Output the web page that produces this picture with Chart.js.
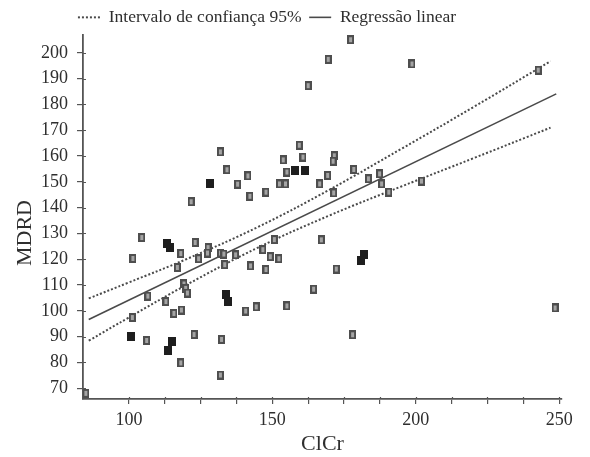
<!DOCTYPE html>
<html>
<head>
<meta charset="utf-8">
<script src="https://cdn.jsdelivr.net/npm/chart.js@4.4.0/dist/chart.umd.min.js"></script>
<style>
  html, body { margin: 0; padding: 0; background: #ffffff; }
  #wrap { width: 590px; height: 457px; }
</style>
</head>
<body>
<div id="wrap"><canvas id="c" width="590" height="457"></canvas></div>
<script>
// ---- Data ----
const grayX = [131.9,134.2,141.5,137.9,142.2,147.8,152.5,121.7,104.5,101.4,118.1,123.1,116.9,124.3,127.6,127.4,131.9,133.1,137.2,133.4,142.4,150.7,149.3,147.8,119.2,119.8,120.4,106.6,112.9,140.7,144.4,115.7,118.3,101.2,106.2,122.7,132.3,118.1,131.9,85.0,
  177.3,169.5,198.7,162.5,159.4,153.8,160.7,171.6,171.2,155.1,169.3,178.4,154.6,166.5,171.4,183.5,187.4,188.1,190.6,202.0,
  167.1,146.7,152.3,172.3,164.4,155.1,178.0,242.7,248.6];
const grayY = [161.6,154.7,152.3,149.1,144.4,146.0,149.2,142.3,128.4,120.3,122.2,126.5,116.8,120.2,124.5,122.4,122.4,122.0,121.7,117.9,117.4,127.6,121.0,116.0,110.4,108.7,106.9,105.7,103.6,99.9,101.5,99.0,100.3,97.4,88.5,90.8,88.9,79.8,75.1,68.0,
  205.1,197.5,195.7,187.3,164.2,158.5,159.6,160.1,158.0,153.8,152.5,154.8,149.2,149.2,145.7,151.2,153.1,149.2,146.0,150.3,
  127.5,123.7,120.2,116.2,108.4,101.9,90.7,193.3,101.1];
const blackX = [128.3,113.3,114.5,133.8,134.7,100.8,115.2,113.5,157.8,161.5,182.0,180.8];
const blackY = [149.4,126.1,124.5,106.4,103.5,90.1,88.0,84.7,154.4,154.4,121.7,119.5];

const regX = [86, 249];
const regY = [96.6, 184.1];

const ciX     = [86, 100, 120, 145, 170, 195, 220, 247];
const ciUpper = [104.8, 111.0, 120.0, 132.5, 147.0, 162.8, 178.9, 196.8];
const ciLower = [88.4, 97.4, 110.0, 124.5, 137.0, 148.2, 159.1, 171.0];

const xTickValues = [100,112.5,125,137.5,150,162.5,175,187.5,200,212.5,225,237.5,250];
const xTickLabels = [100,150,200,250];
const yTickValues = [70,80,90,100,110,120,130,140,150,160,170,180,190,200];

const labelCI = 'Intervalo de confiança 95%';
const labelReg = 'Regressão linear';
const xTitle = 'ClCr';
const yTitle = 'MDRD';

// ---- Marker images ----
function makeMarker(w, h, outer, inner) {
  const cv = document.createElement('canvas');
  cv.width = w; cv.height = h;
  const g = cv.getContext('2d');
  g.fillStyle = outer; g.fillRect(0, 0, w, h);
  if (inner) { g.fillStyle = inner; g.fillRect(2, 2, w - 4, h - 4); }
  return cv;
}
const grayMarker = makeMarker(7, 9, '#4e4e4e', '#a4a4a4');
const blackMarker = makeMarker(8, 9, '#1e1e1e', null);

const zip = (xs, ys) => xs.map((x, i) => ({x: x, y: ys[i]}));

const FONT = "'Liberation Serif', 'DejaVu Serif', serif";
const TXT = '#2e2e2e';
const AX = '#555555';

// shift the legend and the y title slightly (drawing only)
const layoutTweaks = {
  id: 'layoutTweaks',
  beforeDraw(chart) {
    const lg = chart.legend;
    if (lg && !lg._shifted) {
      lg.left -= 14; lg.right -= 14;
      lg.top += 1; lg.bottom += 1;
      lg._shifted = true;
    }
    const ys = chart.scales.y;
    if (ys && !ys._titlePatched) {
      const orig = ys.drawTitle.bind(ys);
      ys.drawTitle = function () {
        const ctx = chart.ctx;
        ctx.save();
        ctx.translate(2, 16);
        orig();
        ctx.restore();
      };
      ys._titlePatched = true;
    }
  }
};

// small inner part of the tick marks (ticks cross the axis line)
const innerTicks = {
  id: 'innerTicks',
  afterDatasetsDraw(chart) {
    const ctx = chart.ctx, xs = chart.scales.x, ys = chart.scales.y;
    const ca = chart.chartArea;
    ctx.save();
    ctx.strokeStyle = AX; ctx.lineWidth = 1.2;
    ctx.beginPath();
    ys.ticks.forEach(t => { const p = Math.round(ys.getPixelForValue(t.value)) + 0.5; ctx.moveTo(ca.left, p); ctx.lineTo(ca.left + 3, p); });
    xs.ticks.forEach(t => { const p = Math.round(xs.getPixelForValue(t.value)) + 0.5; ctx.moveTo(p, ca.bottom); ctx.lineTo(p, ca.bottom - 2); });
    ctx.stroke();
    ctx.restore();
  }
};

new Chart(document.getElementById('c'), {
  type: 'scatter',
  plugins: [layoutTweaks, innerTicks],
  data: {
    datasets: [
      { type: 'line', label: labelCI, data: zip(ciX, ciUpper), borderColor: '#4a4a4a', borderWidth: 2, borderDash: [2, 2],
        pointRadius: 0, fill: false, tension: 0.4, order: 2 },
      { type: 'line', label: labelReg, data: zip(regX, regY), borderColor: '#4a4a4a', borderWidth: 1.6,
        pointRadius: 0, fill: false, order: 2 },
      { type: 'line', label: 'ci-lower', data: zip(ciX, ciLower), borderColor: '#4a4a4a', borderWidth: 2, borderDash: [2, 2],
        pointRadius: 0, fill: false, tension: 0.4, order: 2 },
      { label: 'gray', data: zip(grayX, grayY), pointStyle: grayMarker, order: 1 },
      { label: 'black', data: zip(blackX, blackY), pointStyle: blackMarker, order: 1 }
    ]
  },
  options: {
    responsive: false,
    animation: false,
    devicePixelRatio: 1,
    layout: { padding: { left: 0, right: 28, top: 0, bottom: 0 } },
    plugins: {
      tooltip: { enabled: false },
      legend: {
        display: true,
        position: 'top',
        labels: {
          generateLabels: (chart) => {
            const items = Chart.defaults.plugins.legend.labels.generateLabels(chart);
            return items
              .filter(it => it.text === labelCI || it.text === labelReg)
              .map(it => {
                const ds = chart.data.datasets[it.datasetIndex];
                it.lineDash = ds.borderDash || [];
                it.lineWidth = ds.borderWidth;
                it.strokeStyle = ds.borderColor;
                it.pointStyle = 'line';
                return it;
              });
          },
          usePointStyle: true,
          pointStyle: 'line',
          pointStyleWidth: 22,
          color: TXT,
          font: { family: FONT, size: 17.5 },
          padding: 7.6
        }
      }
    },
    scales: {
      x: {
        type: 'linear',
        min: 84, max: 251,
        afterBuildTicks: (s) => { s.ticks = xTickValues.map(v => ({value: v})); },
        afterFit: (s) => { s.height = 58; },
        ticks: {
          color: TXT, font: { family: FONT, size: 18 }, padding: 5, maxRotation: 0, autoSkip: false,
          callback: (v) => xTickLabels.includes(v) ? String(v) : ''
        },
        grid: { display: true, drawOnChartArea: false, drawTicks: true, tickLength: 5, color: AX, lineWidth: 1.2 },
        border: { display: true, color: AX, width: 1.8 },
        title: { display: true, text: xTitle, color: TXT, font: { family: FONT, size: 22 }, padding: { top: 0, bottom: 0 } }
      },
      y: {
        type: 'linear',
        min: 65.8, max: 206.9,
        afterBuildTicks: (s) => { s.ticks = yTickValues.map(v => ({value: v})); },
        afterFit: (s) => { s.width = 83; },
        ticks: { color: TXT, font: { family: FONT, size: 18 }, padding: 9, autoSkip: false },
        grid: { display: true, drawOnChartArea: false, drawTicks: true, tickLength: 6, color: AX, lineWidth: 1.2 },
        border: { display: true, color: AX, width: 1.8 },
        title: { display: true, text: yTitle, color: TXT, font: { family: FONT, size: 22 }, padding: { top: 10, bottom: 0 } }
      }
    }
  }
});
</script>
</body>
</html>
